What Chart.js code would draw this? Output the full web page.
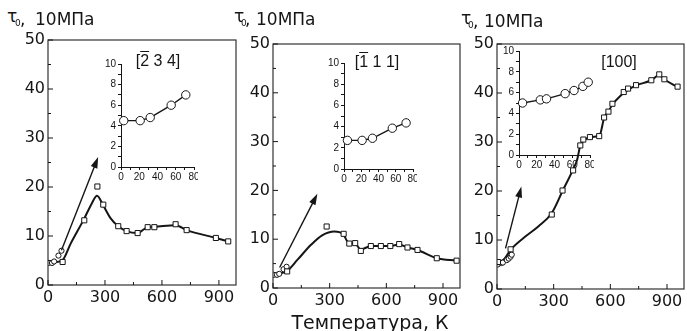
<!DOCTYPE html>
<html><head><meta charset="utf-8">
<script src="https://cdn.jsdelivr.net/npm/chart.js@4"></script>
<style>
html,body{margin:0;padding:0;background:#fff;}
#wrap{position:relative;width:687px;height:331px;overflow:hidden;background:#fff;}
canvas{position:absolute;}
.t{position:absolute;white-space:nowrap;color:#151515;font-family:"DejaVu Sans";line-height:17px;font-size:17px;}
.lab{position:absolute;white-space:nowrap;color:#151515;font-family:"Liberation Sans";font-size:16px;line-height:16px;transform:translateX(-50%);}
.ov{text-decoration:overline;}
</style></head><body><div id="wrap">
<canvas id="m1" width="242" height="287" style="left:0px;top:28px"></canvas>
<canvas id="m2" width="221" height="288" style="left:243px;top:30px"></canvas>
<canvas id="m3" width="221" height="289" style="left:466px;top:30px"></canvas>
<canvas id="i1" width="97" height="127" style="left:101px;top:56px"></canvas>
<canvas id="i2" width="93" height="130" style="left:324px;top:55px"></canvas>
<canvas id="i3" width="95" height="128" style="left:499px;top:43px"></canvas>

<div class="t" style="left:7px;top:8px">τ</div><div class="t" style="left:15px;top:19px;font-size:9px;line-height:9px">0</div><div class="t" style="left:20px;top:11px">,</div><div class="t" style="left:35px;top:11px">10МПа</div>
<div class="t" style="left:234px;top:8px">τ</div><div class="t" style="left:241px;top:19px;font-size:9px;line-height:9px">0</div><div class="t" style="left:245px;top:11px">,</div><div class="t" style="left:256px;top:11px">10МПа</div>
<div class="t" style="left:461px;top:10px">τ</div><div class="t" style="left:468px;top:21px;font-size:9px;line-height:9px">0</div><div class="t" style="left:473px;top:13px">,</div><div class="t" style="left:484px;top:13px">10МПа</div>

<div class="t" style="left:370px;top:313px;font-size:19px;line-height:19px;transform:translateX(-50%)">Температура, К</div>

<div class="lab" style="left:158px;top:53px">[<span class="ov">2</span> 3 4]</div>
<div class="lab" style="left:377px;top:54px">[<span class="ov">1</span> 1 1]</div>
<div class="lab" style="left:619px;top:54px">[100]</div>
</div>
<script>
// ---------- data ----------
const xTickLabels = [0, 300, 600, 900];
const yTickLabels = [0, 10, 20, 30, 40, 50];
const insetXTicks = [0, 20, 40, 60, 80];
const insetYTicks = [0, 2, 4, 6, 8, 10];

// panel [-2 3 4]
const p1SqT = [77, 191, 260, 291, 370, 414, 472, 525, 560, 672, 730, 884, 949];
const p1SqV = [4.7, 13.2, 20.1, 16.4, 12.0, 11.0, 10.6, 11.8, 11.8, 12.4, 11.2, 9.6, 8.9];
const p1LowT = [3, 21, 32, 55, 71];
const p1LowV = [4.5, 4.5, 4.8, 6.0, 7.0];
const p1FitT = [0, 40, 75, 120, 190, 230, 258, 290, 330, 370, 414, 470, 525, 560, 672, 730, 884, 949];
const p1FitV = [4.6, 4.7, 5.0, 8.5, 13.5, 16.6, 18.2, 16.3, 13.6, 12.0, 11.0, 10.6, 11.8, 11.9, 12.2, 11.2, 9.6, 8.9];

// panel [-1 1 1]
const p2SqT = [75, 284, 374, 404, 435, 465, 518, 571, 621, 668, 712, 765, 867, 972];
const p2SqV = [3.4, 12.6, 11.1, 9.1, 9.2, 7.6, 8.6, 8.6, 8.6, 9.0, 8.3, 7.8, 6.1, 5.6];
const p2LowT = [4, 21, 33, 56, 72];
const p2LowV = [2.7, 2.7, 2.9, 3.85, 4.35];
const p2FitT = [0, 40, 75, 130, 200, 260, 325, 370, 400, 435, 465, 518, 571, 621, 668, 712, 765, 867, 972];
const p2FitV = [2.8, 3.0, 3.5, 5.8, 8.8, 10.8, 11.6, 11.1, 9.3, 9.1, 7.9, 8.6, 8.6, 8.6, 8.9, 8.3, 7.8, 6.1, 5.6];

// panel [100]
const p3SqT = [5, 72, 290, 347, 403, 441, 457, 492, 541, 567, 590, 611, 671, 694, 736, 817, 859, 886, 956];
const p3SqV = [5.5, 8.1, 15.2, 20.1, 24.2, 29.3, 30.5, 31.0, 31.2, 35.0, 36.2, 37.8, 40.2, 40.9, 41.6, 42.6, 43.8, 42.8, 41.3];
const p3LowT = [4, 24, 31, 52, 62, 72, 78];
const p3LowV = [5.0, 5.3, 5.4, 5.9, 6.2, 6.6, 7.0];
const p3FitT = [0, 40, 72, 150, 220, 290, 347, 403, 425, 441, 464, 493, 542, 568, 591, 612, 650, 682, 713, 740, 817, 857, 888, 958];
const p3FitV = [5.2, 6.2, 8.0, 10.7, 12.8, 15.5, 20.0, 24.4, 26.5, 29.3, 30.4, 31.0, 31.3, 35.0, 36.3, 37.7, 39.3, 40.3, 41.1, 41.6, 42.6, 43.6, 42.7, 41.2];

// arrows (data units of each main panel): from -> to
const arrow1 = [[71, 7.1], [264, 26.1]];
const arrow2 = [[35, 4.2], [235, 19.3]];
const arrow3 = [[45, 8.3], [129, 20.9]];

// ---------- helpers ----------
const INK = '#151515';
function pts(T, V) { return T.map((t, i) => ({ x: t, y: V[i] })); }
function fixed(size, horiz) {
  return function (s) {
    if (horiz) s.height = size; else s.width = size;
    s.paddingLeft = 0; s.paddingRight = 0; s.paddingTop = 0; s.paddingBottom = 0;
  };
}
function setTicks(vals) { return function (s) { s.ticks = vals.map(v => ({ value: v })); }; }

const deco = {
  id: 'deco',
  afterDraw(chart) {
    const o = chart.options.plugins.deco;
    if (!o) return;
    const { ctx, chartArea: a } = chart;
    const x = chart.scales.x, y = chart.scales.y;
    ctx.save();
    ctx.strokeStyle = '#333';
    ctx.lineWidth = 1.2;
    ctx.strokeRect(a.left, a.top, a.right - a.left, a.bottom - a.top);
    ctx.strokeStyle = INK;
    ctx.lineWidth = 1;
    for (let v = 0; v <= x.max; v += 150) {
      const px = x.getPixelForValue(v), L = (v % 300 === 0) ? 5 : 3;
      ctx.beginPath(); ctx.moveTo(px, a.bottom); ctx.lineTo(px, a.bottom - L); ctx.stroke();
    }
    for (let v = 0; v <= y.max; v += 5) {
      const py = y.getPixelForValue(v), L = (v % 10 === 0) ? 5 : 3;
      ctx.beginPath(); ctx.moveTo(a.left, py); ctx.lineTo(a.left + L, py); ctx.stroke();
    }
    // arrow
    const ar = o.arrow;
    const x1 = x.getPixelForValue(ar[0][0]), y1 = y.getPixelForValue(ar[0][1]);
    const x2 = x.getPixelForValue(ar[1][0]), y2 = y.getPixelForValue(ar[1][1]);
    const dx = x2 - x1, dy = y2 - y1, len = Math.hypot(dx, dy), ux = dx / len, uy = dy / len;
    const hl = 11, hw = 3.5;
    const bx = x2 - ux * hl, by = y2 - uy * hl;
    ctx.lineWidth = 1.4;
    ctx.beginPath(); ctx.moveTo(x1, y1); ctx.lineTo(bx + ux * 2, by + uy * 2); ctx.stroke();
    ctx.fillStyle = INK;
    ctx.beginPath();
    ctx.moveTo(x2, y2);
    ctx.lineTo(bx - uy * hw, by + ux * hw);
    ctx.lineTo(bx + uy * hw, by - ux * hw);
    ctx.closePath(); ctx.fill();
    ctx.restore();
  }
};

function makeMain(id, sqT, sqV, lowT, lowV, fitT, fitV, arrow, yw, pt, pr) {
  new Chart(document.getElementById(id), {
    type: 'scatter',
    data: {
      datasets: [
        { data: pts(sqT, sqV), pointStyle: 'rect', pointRadius: 3.6, borderColor: INK, backgroundColor: '#fff', pointBorderWidth: 1, order: 1 },
        { data: pts(lowT, lowV), pointStyle: 'circle', pointRadius: 2.6, borderColor: INK, backgroundColor: '#fff', pointBorderWidth: 1, order: 1 },
        { data: pts(fitT, fitV), showLine: true, pointRadius: 0, borderColor: INK, borderWidth: 2, cubicInterpolationMode: 'monotone', order: 2 }
      ]
    },
    options: {
      responsive: false, animation: false, devicePixelRatio: 1,
      layout: { padding: { top: pt, right: pr, left: 0, bottom: 0 }, autoPadding: false },
      plugins: { legend: { display: false }, tooltip: { enabled: false }, deco: { arrow: arrow } },
      elements: { point: { hitRadius: 0 } },
      scales: {
        x: {
          type: 'linear', min: 0, max: 990,
          afterBuildTicks: setTicks(xTickLabels), afterFit: fixed(30, true),
          grid: { display: false, drawTicks: false }, border: { display: false },
          ticks: { padding: 3, color: INK, font: { family: 'DejaVu Sans', size: 16 }, maxRotation: 0, autoSkip: false }
        },
        y: {
          type: 'linear', min: 0, max: 50,
          afterBuildTicks: setTicks(yTickLabels), afterFit: fixed(yw, false),
          grid: { display: false, drawTicks: false }, border: { display: false },
          ticks: { padding: 3, color: INK, font: { family: 'DejaVu Sans', size: 16 }, autoSkip: false }
        }
      }
    },
    plugins: [deco]
  });
}

function makeInset(id, T, V) {
  const minorX = [], minorY = [];
  for (let v = 0; v <= 80; v += 10) minorX.push(v);
  for (let v = 0; v <= 10; v += 1) minorY.push(v);
  new Chart(document.getElementById(id), {
    type: 'scatter',
    data: {
      datasets: [
        { data: pts(T, V), showLine: true, pointStyle: 'circle', pointRadius: 4.2, borderColor: INK, backgroundColor: '#fff', pointBorderWidth: 1, borderWidth: 1.4, clip: false }
      ]
    },
    options: {
      responsive: false, animation: false, devicePixelRatio: 1,
      layout: { padding: { top: 8, right: 4, left: 0, bottom: 0 }, autoPadding: false },
      plugins: { legend: { display: false }, tooltip: { enabled: false } },
      scales: {
        x: {
          type: 'linear', min: 0, max: 80,
          afterBuildTicks: setTicks(minorX), afterFit: fixed(16, true),
          grid: { drawOnChartArea: false, drawTicks: true, tickLength: 3, tickColor: INK, color: INK },
          border: { display: true, color: INK, width: 1 },
          ticks: { padding: 1, color: INK, font: { family: 'Liberation Sans', size: 10 }, maxRotation: 0, autoSkip: false,
                   callback: v => insetXTicks.includes(v) ? v : '' }
        },
        y: {
          type: 'linear', min: 0, max: 10,
          afterBuildTicks: setTicks(minorY), afterFit: fixed(20, false),
          grid: { drawOnChartArea: false, drawTicks: true, tickLength: 3, tickColor: INK, color: INK },
          border: { display: true, color: INK, width: 1 },
          ticks: { padding: 2, color: INK, font: { family: 'Liberation Sans', size: 10 }, autoSkip: false,
                   callback: v => insetYTicks.includes(v) ? v : '' }
        }
      }
    }
  });
}

makeMain('m1', p1SqT, p1SqV, p1LowT, p1LowV, p1FitT, p1FitV, arrow1, 48, 12, 6);
makeMain('m2', p2SqT, p2SqV, p2LowT, p2LowV, p2FitT, p2FitV, arrow2, 30, 14, 4);
makeMain('m3', p3SqT, p3SqV, p3LowT, p3LowV, p3FitT, p3FitV, arrow3, 31, 14, 3);
makeInset('i1', p1LowT, p1LowV);
makeInset('i2', p2LowT, p2LowV);
makeInset('i3', p3LowT, p3LowV);
</script>
</body></html>
